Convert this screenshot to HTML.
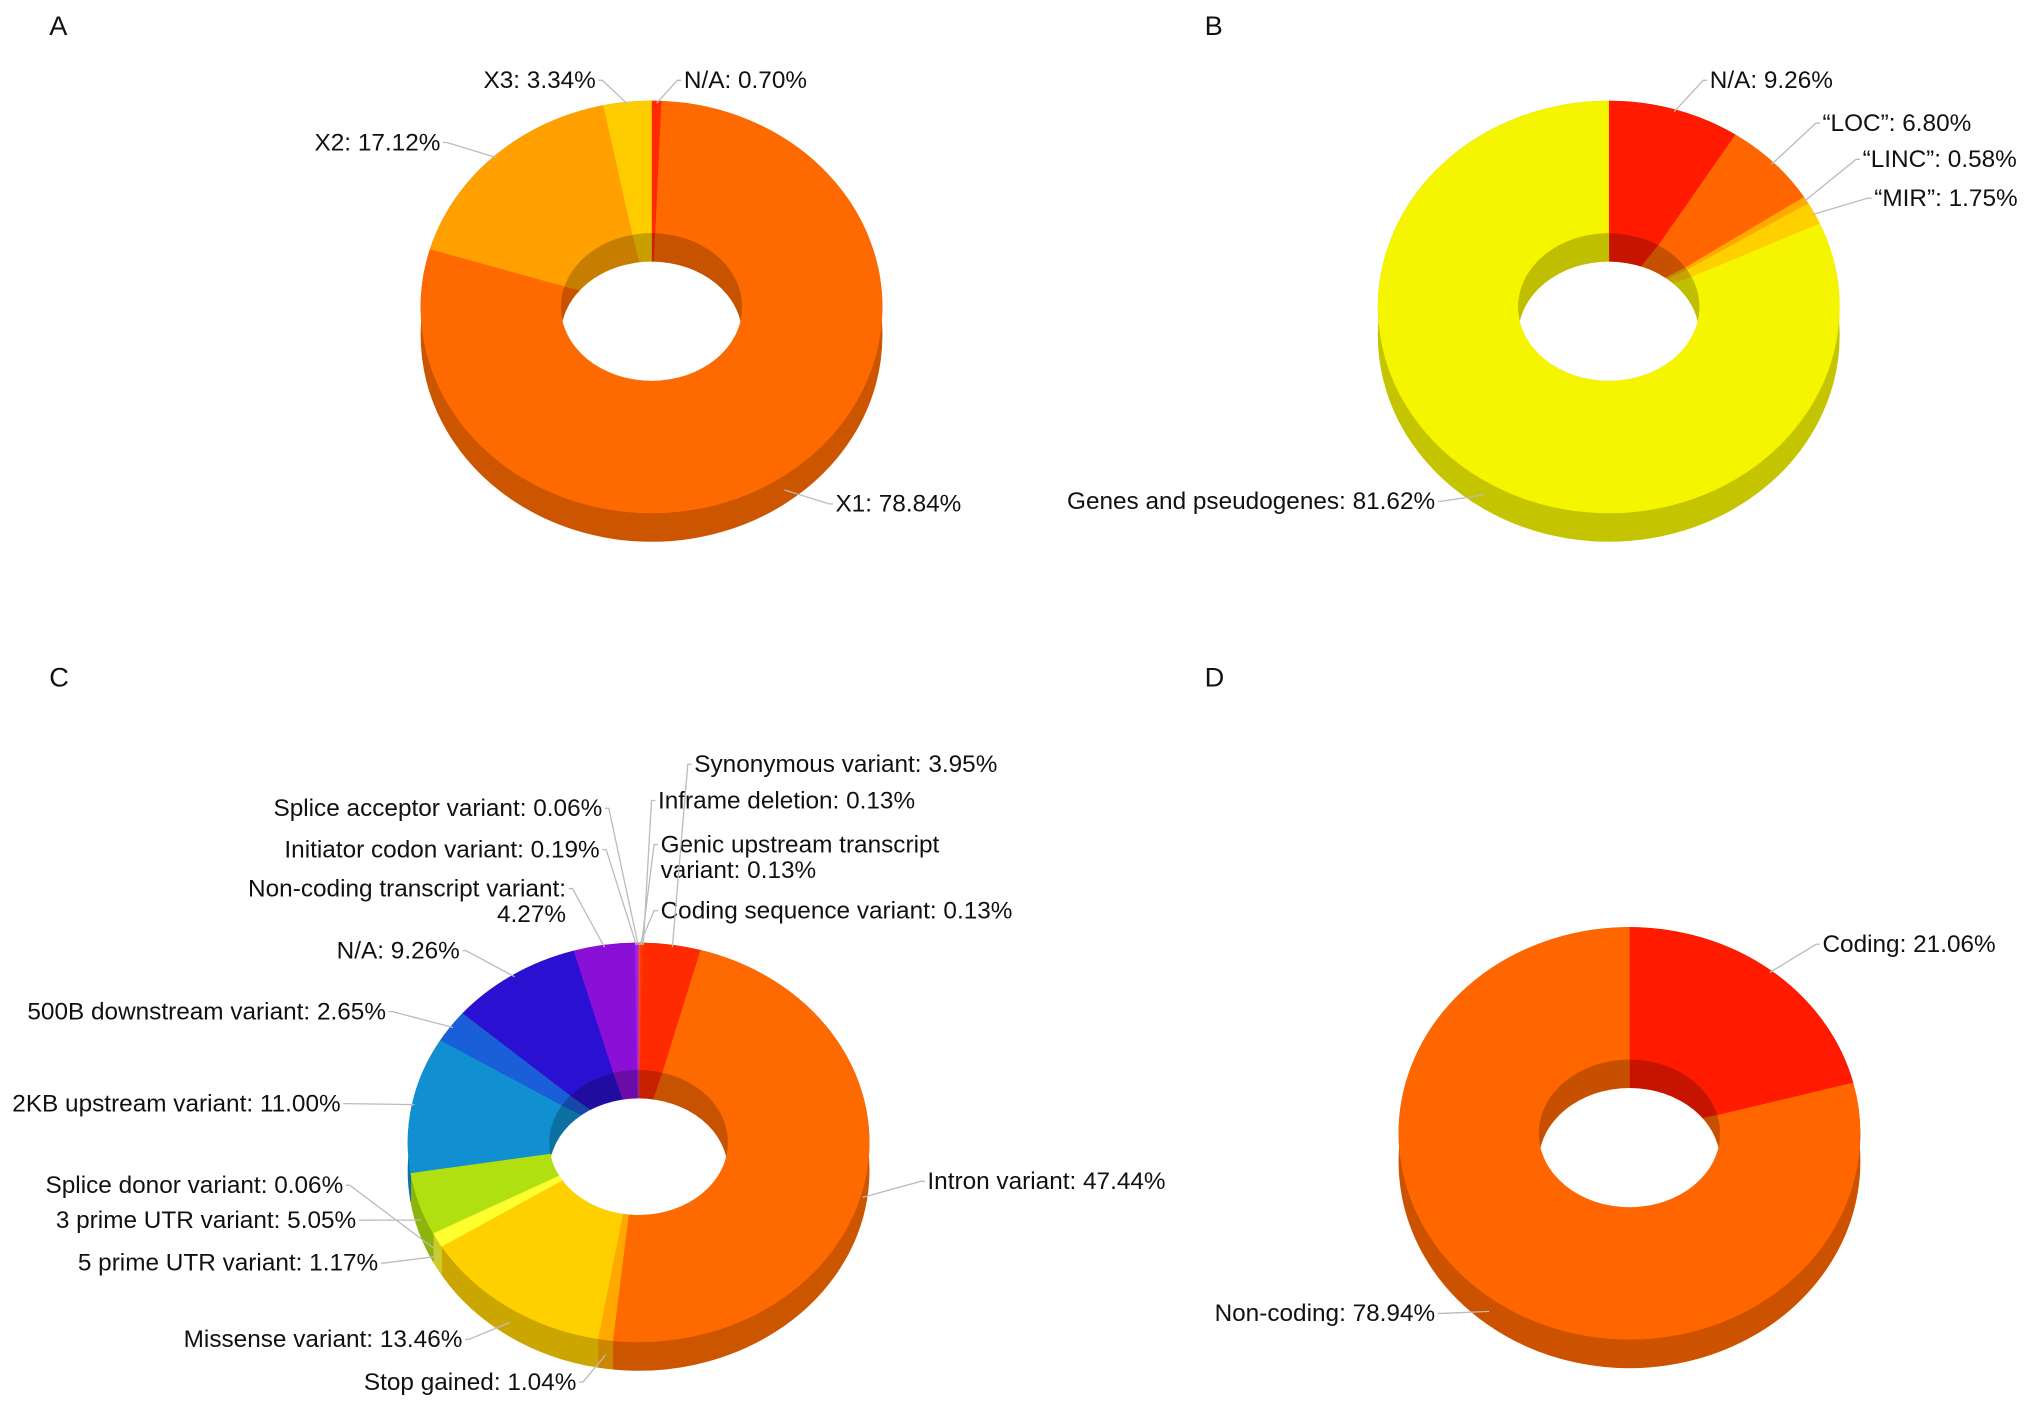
<!DOCTYPE html>
<html><head><meta charset="utf-8"><style>
html,body{margin:0;padding:0;background:#fff}
svg{display:block}
text{font-family:"Liberation Sans",Arial,sans-serif;font-size:18.8px;fill:#111}
.pl{font-size:21px}
</style></head><body>
<svg id="svg" width="2031" height="1408" viewBox="0 0 1568 1087" preserveAspectRatio="none" xmlns="http://www.w3.org/2000/svg">
<text class="pl" x="38" y="27">A</text>
<text class="pl" x="930" y="27">B</text>
<text class="pl" x="38" y="530">C</text>
<text class="pl" x="930" y="530">D</text>
</svg>
<script>
const aCats=["N/A","X1","X2","X3"];
const aVals=[0.70,78.84,17.12,3.34];
const aLabels=["N/A: 0.70%","X1: 78.84%","X2: 17.12%","X3: 3.34%"];
const aColors=["#ff2a00","#ff6a00","#ffa000","#ffcc00"];

const bCats=["N/A","LOC","LINC","MIR","Genes and pseudogenes"];
const bVals=[9.26,6.80,0.58,1.75,81.62];
const bLabels=["N/A: 9.26%","\u201cLOC\u201d: 6.80%","\u201cLINC\u201d: 0.58%","\u201cMIR\u201d: 1.75%","Genes and pseudogenes: 81.62%"];
const bColors=["#ff1a00","#ff6600","#ffaa00","#ffd000","#f5f500"];

const cCats=["Coding sequence variant","Genic upstream transcript variant","Inframe deletion","Synonymous variant","Intron variant","Stop gained","Missense variant","5 prime UTR variant","Splice donor variant","3 prime UTR variant","2KB upstream variant","500B downstream variant","N/A","Non-coding transcript variant","Initiator codon variant","Splice acceptor variant"];
const cVals=[0.13,0.13,0.13,3.95,47.44,1.04,13.46,1.17,0.06,5.05,11.00,2.65,9.26,4.27,0.19,0.06];
const cLabels=[["Coding sequence variant: 0.13%"],["Genic upstream transcript","variant: 0.13%"],["Inframe deletion: 0.13%"],["Synonymous variant: 3.95%"],["Intron variant: 47.44%"],["Stop gained: 1.04%"],["Missense variant: 13.46%"],["5 prime UTR variant: 1.17%"],["Splice donor variant: 0.06%"],["3 prime UTR variant: 5.05%"],["2KB upstream variant: 11.00%"],["500B downstream variant: 2.65%"],["N/A: 9.26%"],["Non-coding transcript variant:","4.27%"],["Initiator codon variant: 0.19%"],["Splice acceptor variant: 0.06%"]];
const cColors=["#ff5000","#ff3a00","#ff3000","#ff2a00","#ff6a00","#ffa800","#ffd000","#ffff30","#d8f020","#b0e010","#1090d0","#1a5ed8","#2a10d0","#8a10d8","#a020e0","#b030e0"];

const dCats=["Coding","Non-coding"];
const dVals=[21.06,78.94];
const dLabels=["Coding: 21.06%","Non-coding: 78.94%"];
const dColors=["#ff1a00","#ff6600"];

const NS="http://www.w3.org/2000/svg";
const svg=document.getElementById('svg');
function el(t,a,p){const e=document.createElementNS(NS,t);for(const k in a)e.setAttribute(k,a[k]);(p||svg).appendChild(e);return e;}
function dark(c,f){f=f||0.8;const n=parseInt(c.slice(1),16);const r=Math.round((n>>16)*f),g=Math.round(((n>>8)&255)*f),b=Math.round((n&255)*f);return "rgb("+r+","+g+","+b+")";}
let clipId=0;
function donut(key,cfg,vals,labels,colors,pos){
  const {cx,cy,rx,ry,irx,iry,d}=cfg;
  const tot=vals.reduce((s,v)=>s+v,0);
  const P=(t,a,b,dy)=>[cx+a*Math.sin(t),cy+(dy||0)-b*Math.cos(t)];
  const g=el('g',{});
  
  
  let acc=0;const segs=vals.map(v=>{const a1=acc/tot*2*Math.PI;acc+=v;return [a1,acc/tot*2*Math.PI];});
  segs.forEach(([a1,a2],i)=>{
    const p1=P(a1,rx,ry),p2=P(a2,rx,ry),q2=P(a2,rx,ry,d),q1=P(a1,rx,ry,d);const L=(a2-a1)>Math.PI?1:0;
    const s=el('path',{d:`M${p1}A${rx},${ry} 0 ${L} 1 ${p2}L${q2}A${rx},${ry} 0 ${L} 0 ${q1}Z`,fill:dark(colors[i]),stroke:dark(colors[i]),'stroke-width':0.5},g);
    
    
  });
  segs.forEach(([a1,a2],i)=>{
    const p1=P(a1,rx,ry),p2=P(a2,rx,ry),i2=P(a2,irx,iry),i1=P(a1,irx,iry);const L=(a2-a1)>Math.PI?1:0;
    const s=el('path',{d:`M${p1}A${rx},${ry} 0 ${L} 1 ${p2}L${i2}A${irx},${iry} 0 ${L} 0 ${i1}Z`,fill:colors[i],stroke:colors[i],'stroke-width':0.4},g);
    
    
  });
  const id='clip'+(clipId++);
  const cp=el('clipPath',{id:id},g);el('ellipse',{cx:cx,cy:cy,rx:irx,ry:iry},cp);
  const hg=el('g',{'clip-path':`url(#${id})`},g);
  segs.forEach(([a1,a2],i)=>{
    const p1=P(a1,irx,iry),p2=P(a2,irx,iry);const L=(a2-a1)>Math.PI?1:0;
    el('path',{d:`M${cx},${cy}L${p1}A${irx},${iry} 0 ${L} 1 ${p2}Z`,fill:dark(colors[i],0.78),stroke:dark(colors[i],0.78),'stroke-width':0.5},hg);
  });
  const hole=el('ellipse',{cx:cx,cy:cy+d,rx:irx,ry:iry,fill:'#fff'},hg);
  
  
  segs.forEach(([a1,a2],i)=>{
    const m=(a1+a2)/2;const front=Math.cos(m)<0;
    const e=P(m,rx*0.99,ry*0.99,front?d*0.6:0);
    const [lx,ly,anc]=pos[i];
    const ex=anc==='start'?lx-5:lx+5;
    const ln=el('polyline',{points:`${e} ${ex},${ly-6} ${ex+(anc==='start'?3:-3)},${ly-6}`,fill:'none',stroke:'#bbb','stroke-width':1},g);
    
    
    const lines=Array.isArray(labels[i])?labels[i]:[labels[i]];
    lines.forEach((t,j)=>{
      const tx=el('text',{x:lx+(j>0&&pos[i][3]?pos[i][3]:0),y:ly+j*20,'text-anchor':anc},g);
      tx.textContent=t;
      
      
    });
  });
}
donut('a',{cx:503,cy:237,rx:178,ry:159,irx:70,iry:57,d:22},aVals,aLabels,aColors,
 [[528,68,'start'],[645,395,'start'],[340,116,'end'],[460,68,'end']]);
donut('b',{cx:1242,cy:237,rx:178,ry:159,irx:70,iry:57,d:22},bVals,bLabels,bColors,
 [[1320,68,'start'],[1407,101,'start'],[1438,129,'start'],[1447,159,'start'],[1108,393,'end']]);
donut('c',{cx:493,cy:882,rx:178,ry:154,irx:69,iry:56,d:22},cVals,cLabels,cColors,
 [[510,709,'start'],[510,658,'start'],[508,624,'start'],[536,596,'start'],[716,918,'start'],[445,1073,'end'],[357,1040,'end'],[292,981,'end'],[265,921,'end'],[275,948,'end'],[263,858,'end'],[298,787,'end'],[355,740,'end'],[437,692,'end',0],[463,662,'end'],[465,630,'end']]);
donut('d',{cx:1258,cy:875,rx:178,ry:159,irx:70,iry:57,d:22},dVals,dLabels,dColors,
 [[1407,735,'start'],[1108,1020,'end']]);
</script>
</body></html>
